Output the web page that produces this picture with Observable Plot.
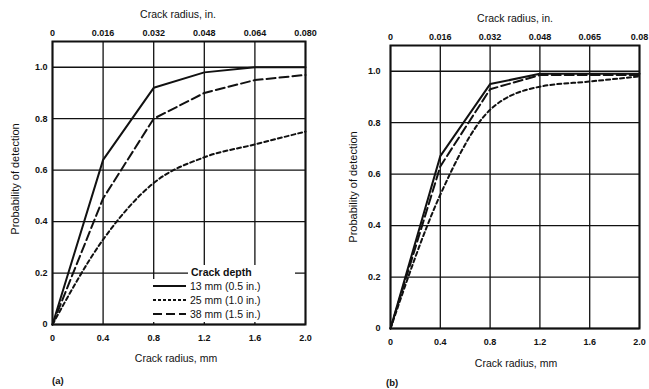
<!DOCTYPE html>
<html>
<head>
<meta charset="utf-8">
<script src="https://cdn.jsdelivr.net/npm/d3@7"></script>
<script src="https://cdn.jsdelivr.net/npm/@observablehq/plot@0.6"></script>
<style>
  html, body { margin: 0; padding: 0; background: #fff; }
  #fig { position: relative; width: 649px; height: 389px; font-family: "Liberation Sans", Arial, sans-serif; color: #111; }
  .panel { position: absolute; top: 0; }
  .title { position: absolute; font-size: 10.5px; white-space: nowrap; transform: translate(-50%, -50%); }
  .ylab { position: absolute; font-size: 11px; white-space: nowrap; transform: translate(-50%, -50%) rotate(-90deg); }
  .tag { position: absolute; font-size: 9.5px; font-weight: bold; }
  .legend-head { position: absolute; background: #fff; font-size: 10.5px; font-weight: bold; line-height: 14px; padding-left: 3px; }
  .legend-rows { position: absolute; background: #fff; font-size: 10.5px; line-height: 14px; }
  .legend-rows .row { display: flex; align-items: center; }
  .legend-rows svg { margin-right: 4px; }
</style>
</head>
<body>
<div id="fig"></div>
<script>
// Crack radius positions (mm) and tick labels
const radiusMm = [0, 0.4, 0.8, 1.2, 1.6, 2.0];
const mmLabels = ["0", "0.4", "0.8", "1.2", "1.6", "2.0"];
const inLabelsA = ["0", "0.016", "0.032", "0.048", "0.064", "0.080"];
const inLabelsB = ["0", "0.016", "0.032", "0.048", "0.065", "0.08"];
const probTicks = [0, 0.2, 0.4, 0.6, 0.8, 1.0];
const probLabels = ["0", "0.2", "0.4", "0.6", "0.8", "1.0"];

// Crack depth series
const depthLabels = ["13 mm (0.5 in.)", "25 mm (1.0 in.)", "38 mm (1.5 in.)"];
const depthDash = [null, "4,3", "9,4"];

// Probability of detection, panel (a)
const podA13 = [0, 0.64, 0.92, 0.98, 1.0, 1.0];
const podA25 = [0, 0.33, 0.55, 0.65, 0.70, 0.75];
const podA38 = [0, 0.49, 0.80, 0.90, 0.95, 0.97];

// Probability of detection, panel (b)
const podB13 = [0, 0.67, 0.95, 0.99, 0.99, 0.99];
const podB25 = [0, 0.52, 0.85, 0.94, 0.96, 0.98];
const podB38 = [0, 0.63, 0.93, 0.985, 0.985, 0.985];

const fig = document.getElementById("fig");

function series(values) {
  return radiusMm.map((x, i) => ({x, y: values[i]}));
}

function panel({left, width, marginLeft, marginRight, marginTop, marginBottom, ypad, inLabels, data}) {
  const lines = data.map((vals, k) =>
    Plot.line(series(vals), {
      x: "x", y: "y", stroke: "#111", strokeWidth: 2,
      strokeDasharray: depthDash[k],
      curve: k === 1 ? "monotone-x" : "linear"
    })
  );
  const chart = Plot.plot({
    width, height: 389,
    marginLeft, marginRight, marginTop, marginBottom,
    style: {fontFamily: "Liberation Sans, Arial, sans-serif", fontSize: "9px", fontWeight: "bold", color: "#111", background: "transparent"},
    x: {domain: [0, 2.0]},
    y: {domain: [0, 1.1]},
    marks: [
      Plot.ruleX(radiusMm, {stroke: "#111", strokeWidth: 1.3}),
      Plot.ruleY(probTicks, {stroke: "#111", strokeWidth: 1.3}),
      ...lines,
      Plot.frame({stroke: "#111", strokeWidth: 2}),
      Plot.axisX({anchor: "bottom", ticks: radiusMm, tickSize: 0, tickPadding: 10,
        tickFormat: d => mmLabels[radiusMm.indexOf(d)], label: null}),
      Plot.axisX({anchor: "top", ticks: radiusMm, tickSize: 0, tickPadding: 6,
        tickFormat: d => inLabels[radiusMm.indexOf(d)], label: null}),
      Plot.axisY({ticks: probTicks, tickSize: 0, tickPadding: ypad,
        tickFormat: d => probLabels[probTicks.indexOf(d)], label: null})
    ]
  });
  const wrap = document.createElement("div");
  wrap.className = "panel";
  wrap.style.left = left + "px";
  wrap.appendChild(chart);
  fig.appendChild(wrap);
}

panel({left: 0, width: 330, marginLeft: 52, marginRight: 25, marginTop: 41, marginBottom: 65, ypad: 5,
  inLabels: inLabelsA, data: [podA13, podA25, podA38]});
panel({left: 330, width: 319, marginLeft: 60, marginRight: 10, marginTop: 45, marginBottom: 61, ypad: 10,
  inLabels: inLabelsB, data: [podB13, podB25, podB38]});

// Axis titles and panel tags
function addText(cls, text, x, y) {
  const el = document.createElement("div");
  el.className = cls;
  el.textContent = text;
  el.style.left = x + "px";
  el.style.top = y + "px";
  fig.appendChild(el);
}
addText("title", "Crack radius, in.", 178, 14);
addText("title", "Crack radius, mm", 176, 358);
addText("ylab", "Probability of detection", 15, 179);
addText("tag", "(a)", 52, 375);
addText("title", "Crack radius, in.", 515, 18);
addText("title", "Crack radius, mm", 516, 363);
addText("ylab", "Probability of detection", 353, 187);
addText("tag", "(b)", 386, 377);

// Legend for crack depth
const head = document.createElement("div");
head.className = "legend-head";
head.style.left = "188px";
head.style.top = "265px";
head.style.width = "104px";
head.textContent = "Crack depth";
fig.appendChild(head);

const rows = document.createElement("div");
rows.className = "legend-rows";
rows.style.left = "153px";
rows.style.top = "279px";
rows.style.width = "142px";
rows.style.height = "43px";
depthLabels.forEach((lab, k) => {
  const row = document.createElement("div");
  row.className = "row";
  const ns = "http://www.w3.org/2000/svg";
  const s = document.createElementNS(ns, "svg");
  s.setAttribute("width", 33); s.setAttribute("height", 6);
  const l = document.createElementNS(ns, "line");
  l.setAttribute("x1", 0); l.setAttribute("x2", 33);
  l.setAttribute("y1", 3); l.setAttribute("y2", 3);
  l.setAttribute("stroke", "#111"); l.setAttribute("stroke-width", 2);
  if (depthDash[k]) l.setAttribute("stroke-dasharray", k === 1 ? "3,2" : "9,4");
  s.appendChild(l);
  row.appendChild(s);
  const t = document.createElement("span");
  t.textContent = lab;
  row.appendChild(t);
  rows.appendChild(row);
});
fig.appendChild(rows);
</script>
</body>
</html>
